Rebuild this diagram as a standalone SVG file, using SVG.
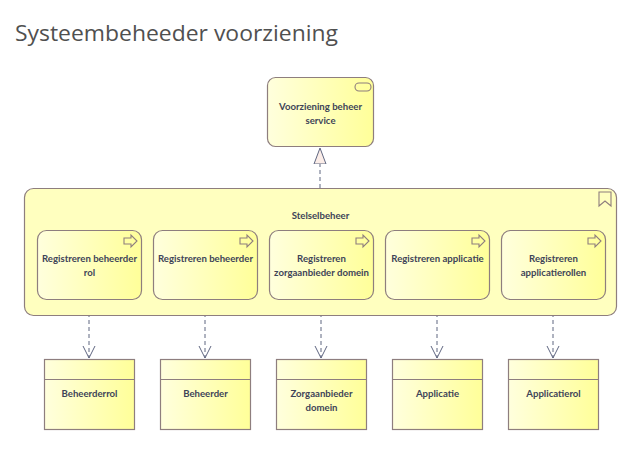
<svg xmlns="http://www.w3.org/2000/svg" width="627" height="460" viewBox="0 0 627 460">
<defs>
<linearGradient id="yg" x1="0" y1="0" x2="1" y2="0">
<stop offset="0" stop-color="#FFFFDD"/>
<stop offset="1" stop-color="#FFFF99"/>
</linearGradient>
<marker id="open" markerWidth="14" markerHeight="18" refX="12" refY="7" orient="auto" markerUnits="userSpaceOnUse" viewBox="0 0 14 14">
<path d="M0,1 L12,7 L0,13" fill="none" stroke="#5F6680" stroke-width="1"/>
</marker>
<marker id="tri" markerWidth="18" markerHeight="14" refX="16" refY="7" orient="auto" markerUnits="userSpaceOnUse" viewBox="0 0 18 14">
<path d="M0,1 L16,7 L0,13 Z" fill="#FBEDE8" stroke="#5F6680" stroke-width="1"/>
</marker>
</defs>
<style>
.box{fill:url(#yg);stroke:#8E7E7E;stroke-width:1.2}
.cont{fill:#FFFFBF;stroke:#8E7E7E;stroke-width:1.2}
.icon{fill:none;stroke:#8E7E7E;stroke-width:1.1}
.lbl{font-family:Lato,"Open Sans",sans-serif;font-size:9.6px;font-weight:bold;fill:#3E4458;text-anchor:middle}
.title{font-family:"Open Sans","Noto Sans",sans-serif;font-size:22px;fill:#505050}
.con{fill:none;stroke:#5F6680;stroke-width:1;stroke-dasharray:4,3}
</style>
<rect width="627" height="460" fill="#FFFFFF"/>
<text class="title" x="15" y="41" textLength="323" lengthAdjust="spacingAndGlyphs">Systeembeheeder voorziening</text>

<g id="connectors">
<path class="con" d="M320,188 L320,148" marker-end="url(#tri)" stroke-dasharray="7,3"/>
<path class="con" d="M89,299 L89,358" marker-end="url(#open)"/>
<path class="con" d="M205,299 L205,358" marker-end="url(#open)"/>
<path class="con" d="M321,299 L321,358" marker-end="url(#open)"/>
<path class="con" d="M437,299 L437,358" marker-end="url(#open)"/>
<path class="con" d="M553,299 L553,358" marker-end="url(#open)"/>
</g>

<g id="service">
<rect class="box" x="267.5" y="77.5" width="106" height="69" rx="8"/>
<rect class="icon" x="355" y="83" width="16" height="8" rx="4"/>
<text class="lbl" x="320.5" y="110">Voorziening beheer</text>
<text class="lbl" x="320.5" y="124">service</text>
</g>

<g id="stelselbeheer">
<rect class="cont" x="24.5" y="188.5" width="592" height="127" rx="9"/>
<path class="icon" d="M599,192 L611,192 L611,206 L605,201 L599,206 Z"/>
<text class="lbl" x="320.5" y="219">Stelselbeheer</text>
</g>

<g id="p1">
<rect class="box" x="37.5" y="230.5" width="104" height="69" rx="9"/>
<path class="icon" d="M124,238 L131,238 L131,235 L137,241 L131,247 L131,244 L124,244 Z"/>
<text class="lbl" x="89.5" y="262">Registreren beheerder</text>
<text class="lbl" x="89.5" y="276">rol</text>
</g>
<g id="p2">
<rect class="box" x="153.5" y="230.5" width="104" height="69" rx="9"/>
<path class="icon" d="M240,238 L247,238 L247,235 L253,241 L247,247 L247,244 L240,244 Z"/>
<text class="lbl" x="205.5" y="262">Registreren beheerder</text>
</g>
<g id="p3">
<rect class="box" x="269.5" y="230.5" width="104" height="69" rx="9"/>
<path class="icon" d="M356,238 L363,238 L363,235 L369,241 L363,247 L363,244 L356,244 Z"/>
<text class="lbl" x="321.5" y="262">Registreren</text>
<text class="lbl" x="321.5" y="276">zorgaanbieder domein</text>
</g>
<g id="p4">
<rect class="box" x="385.5" y="230.5" width="104" height="69" rx="9"/>
<path class="icon" d="M472,238 L479,238 L479,235 L485,241 L479,247 L479,244 L472,244 Z"/>
<text class="lbl" x="437.5" y="262">Registreren applicatie</text>
</g>
<g id="p5">
<rect class="box" x="501.5" y="230.5" width="104" height="69" rx="9"/>
<path class="icon" d="M588,238 L595,238 L595,235 L601,241 L595,247 L595,244 L588,244 Z"/>
<text class="lbl" x="553.5" y="262">Registreren</text>
<text class="lbl" x="553.5" y="276">applicatierollen</text>
</g>

<g id="o1">
<rect class="box" x="44.5" y="359.5" width="90" height="70"/>
<line x1="44.5" y1="379.5" x2="134.5" y2="379.5" stroke="#8E7E7E" stroke-width="1.2"/>
<text class="lbl" x="89.5" y="397">Beheerderrol</text>
</g>
<g id="o2">
<rect class="box" x="160.5" y="359.5" width="90" height="70"/>
<line x1="160.5" y1="379.5" x2="250.5" y2="379.5" stroke="#8E7E7E" stroke-width="1.2"/>
<text class="lbl" x="205.5" y="397">Beheerder</text>
</g>
<g id="o3">
<rect class="box" x="276.5" y="359.5" width="90" height="70"/>
<line x1="276.5" y1="379.5" x2="366.5" y2="379.5" stroke="#8E7E7E" stroke-width="1.2"/>
<text class="lbl" x="321.5" y="397">Zorgaanbieder</text>
<text class="lbl" x="321.5" y="411">domein</text>
</g>
<g id="o4">
<rect class="box" x="392.5" y="359.5" width="90" height="70"/>
<line x1="392.5" y1="379.5" x2="482.5" y2="379.5" stroke="#8E7E7E" stroke-width="1.2"/>
<text class="lbl" x="437.5" y="397">Applicatie</text>
</g>
<g id="o5">
<rect class="box" x="508.5" y="359.5" width="90" height="70"/>
<line x1="508.5" y1="379.5" x2="598.5" y2="379.5" stroke="#8E7E7E" stroke-width="1.2"/>
<text class="lbl" x="553.5" y="397">Applicatierol</text>
</g>
</svg>
